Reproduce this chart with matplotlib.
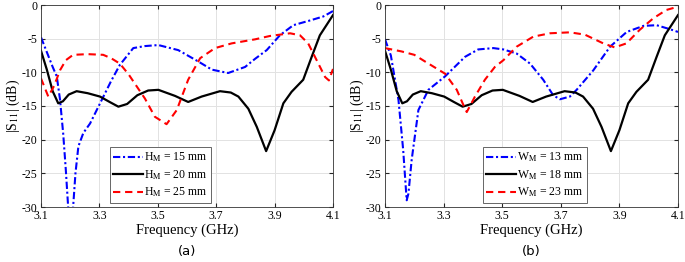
import numpy as np
import matplotlib
matplotlib.use('Agg')
import matplotlib.pyplot as plt

plt.rcParams['font.family'] = ['Liberation Serif', 'DejaVu Serif']
plt.rcParams['mathtext.fontset'] = 'stix'
plt.rcParams['axes.unicode_minus'] = False

# ---------------- (a) : H_M sweep
fa_15 = [3.100, 3.120, 3.140, 3.154, 3.165, 3.176, 3.185, 3.193, 3.200, 3.210, 3.218, 3.228, 3.245,
         3.268, 3.308, 3.340, 3.370, 3.416, 3.456, 3.502, 3.570, 3.639, 3.685, 3.741, 3.799, 3.833,
         3.873, 3.918, 3.964, 4.021, 4.067, 4.100]
sa_15 = [-4.8, -7.0, -9.2, -10.6, -14.0, -19.1, -24.5, -30.0, -33.0, -30.0, -25.0, -21.0, -19.0,
         -17.6, -14.1, -11.3, -8.9, -6.4, -6.1, -5.95, -6.7, -8.4, -9.6, -10.1, -9.2, -8.0,
         -6.7, -4.5, -3.0, -2.3, -1.7, -0.9]

# black curve (H_M = 20 mm / W_M = 18 mm) is the same design in both panels
f_ref = [3.100, 3.120, 3.140, 3.159, 3.175, 3.195, 3.222, 3.260, 3.302, 3.335, 3.365, 3.395, 3.430,
         3.467, 3.502, 3.559, 3.604, 3.650, 3.713, 3.750, 3.776, 3.810, 3.839, 3.871, 3.900, 3.930,
         3.958, 3.998, 4.027, 4.055, 4.100]
s_ref = [-6.8, -9.6, -12.8, -14.6, -14.3, -13.3, -12.8, -13.1, -13.6, -14.4, -15.1, -14.7, -13.4,
         -12.7, -12.6, -13.5, -14.4, -13.6, -12.8, -13.0, -13.6, -15.4, -18.1, -21.7, -18.6, -14.6,
         -12.9, -11.1, -7.7, -4.5, -1.5]

fa_25 = [3.100, 3.125, 3.145, 3.165, 3.185, 3.210, 3.260, 3.313, 3.340, 3.370, 3.400, 3.428, 3.456,
         3.490, 3.530, 3.565, 3.604, 3.645, 3.696, 3.753, 3.833, 3.884, 3.953, 3.987, 4.015, 4.044,
         4.073, 4.086, 4.100]
sa_25 = [-10.9, -13.6, -12.0, -9.7, -8.2, -7.4, -7.3, -7.4, -7.9, -8.7, -10.3, -12.1, -13.9,
         -16.6, -17.7, -15.6, -11.1, -7.9, -6.4, -5.7, -5.1, -4.6, -4.2, -4.5, -5.7, -8.2,
         -10.7, -11.2, -9.5]

# ---------------- (b) : W_M sweep
fb_13 = [3.100, 3.120, 3.146, 3.162, 3.174, 3.180, 3.191, 3.214, 3.248, 3.305, 3.373, 3.418, 3.470,
         3.504, 3.549, 3.595, 3.640, 3.674, 3.697, 3.731, 3.754, 3.811, 3.868, 3.925, 3.982, 4.027,
         4.073, 4.100]
sb_13 = [-5.1, -7.5, -14.1, -21.5, -29.0, -28.0, -23.0, -15.6, -12.6, -10.6, -7.7, -6.6, -6.4,
         -6.6, -7.2, -8.7, -11.1, -13.4, -14.0, -13.6, -12.6, -9.7, -6.2, -4.0, -3.1, -3.0,
         -3.6, -4.0]

fb_23 = [3.100, 3.157, 3.200, 3.237, 3.305, 3.345, 3.365, 3.379, 3.407, 3.441, 3.475, 3.504, 3.549,
         3.606, 3.663, 3.731, 3.782, 3.845, 3.884, 3.924, 3.969, 4.015, 4.060, 4.100]
sb_23 = [-6.4, -6.9, -7.4, -8.4, -10.2, -12.6, -14.6, -15.9, -13.6, -11.1, -9.2, -8.2, -6.2,
         -4.7, -4.2, -4.06, -4.4, -5.7, -6.3, -5.7, -3.7, -2.0, -0.74, -0.25]

xticks = [3.1, 3.3, 3.5, 3.7, 3.9, 4.1]
yticks = [-30, -25, -20, -15, -10, -5, 0]

labels_a = ['H$_\\mathrm{M}$ = 15 mm', 'H$_\\mathrm{M}$ = 20 mm', 'H$_\\mathrm{M}$ = 25 mm']
labels_b = ['W$_\\mathrm{M}$ = 13 mm', 'W$_\\mathrm{M}$ = 18 mm', 'W$_\\mathrm{M}$ = 23 mm']


def panel(ax, f1, s1, f3, s3, labels, leg_x, tag):
	ax.plot(f1, s1, color='#0000ff', lw=1.5, dashes=(3.5, 1.3, 1, 1.3), label=labels[0])
	ax.plot(f_ref, s_ref, color='black', lw=1.6, label=labels[1])
	ax.plot(f3, s3, color='#ff0000', lw=1.5, dashes=(3.5, 2.3), label=labels[2])
	ax.set_xlim(3.1, 4.1)
	ax.set_ylim(-30, 0)
	ax.set_xticks(xticks)
	ax.set_yticks(yticks)
	ax.set_xticklabels(['%.1f' % v for v in xticks])
	ax.set_yticklabels(['%d' % v for v in yticks])
	ax.grid(True, color='#e2e2e2', lw=0.7)
	ax.tick_params(direction='in', top=True, right=True, labelsize=8.5, length=3, pad=2.5,
	               color='#262626')
	for sp in ax.spines.values():
		sp.set_color('#333333')
		sp.set_linewidth(0.6)
	ax.set_xlabel('Frequency (GHz)', fontsize=10.5, labelpad=1)
	ax.set_ylabel('|S$_{11}$| (dB)', fontsize=10, labelpad=0)
	leg = ax.legend(loc='lower left', bbox_to_anchor=(leg_x, 0.02), fontsize=8.5,
	                handlelength=2.5, handletextpad=0.1, borderpad=0.3, labelspacing=0.35,
	                fancybox=False, edgecolor='#666666', framealpha=1, borderaxespad=0)
	leg.get_frame().set_linewidth(0.7)
	ax.text(0.5, -0.188, tag, transform=ax.transAxes, ha='center', va='top',
	        fontsize=9.5, family=['DejaVu Sans'])


fig = plt.figure(figsize=(6.85, 2.62), dpi=100)
ax1 = fig.add_axes([41 / 685, 55 / 262, 292 / 685, 202 / 262])
ax2 = fig.add_axes([385 / 685, 55 / 262, 293 / 685, 202 / 262])

panel(ax1, fa_15, sa_15, fa_25, sa_25, labels_a, 0.236, '(a)')
panel(ax2, fb_13, sb_13, fb_23, sb_23, labels_b, 0.334, '(b)')

fig.savefig('out.png', dpi=100)
